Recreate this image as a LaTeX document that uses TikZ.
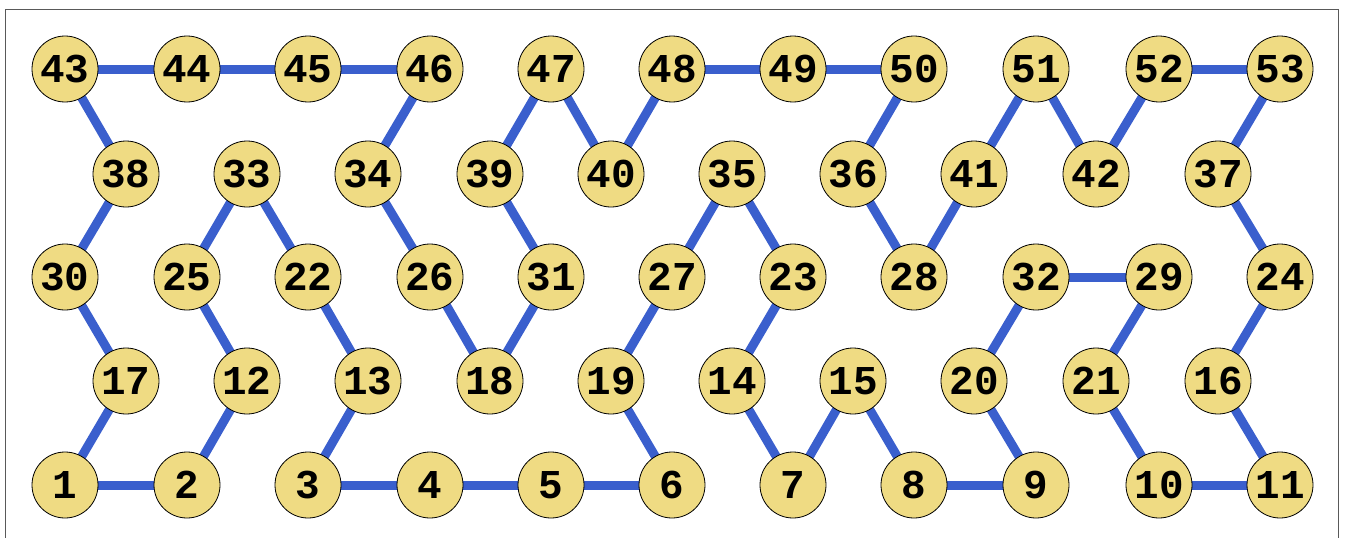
\documentclass[tikz,border=0pt]{standalone}
\usepackage{fontspec}
\setmonofont{Liberation Mono}
\usetikzlibrary{backgrounds}
\definecolor{edgeblue}{HTML}{3A5FCD}
\definecolor{nodefill}{HTML}{EFDB83}
\begin{document}
\begin{tikzpicture}[x=1pt,y=-1pt,
  vnode/.style={circle,draw=black,line width=0.8pt,fill=nodefill,minimum size=66pt,inner sep=0pt,
    font=\fontsize{41}{41}\selectfont\ttfamily\bfseries},
  edge/.style={draw=edgeblue,line width=9pt}]
\useasboundingbox (0,0) rectangle (1345,538);
\draw[gray!70!black,line width=1.5pt] (5.5,9.5) rectangle (1338.5,560);
% rows
\foreach \n/\x in {43/65,44/187,45/308,46/430,47/551,48/672,49/793,50/914,51/1036,52/1159,53/1280}
  \node[vnode] (n\n) at (\x,69) {\n};
\foreach \n/\x in {38/126,33/247,34/368,39/490,40/611,35/732,36/853,41/974,42/1096,37/1218}
  \node[vnode] (n\n) at (\x,174) {\n};
\foreach \n/\x in {30/65,25/187,22/308,26/430,31/551,27/672,23/793,28/914,32/1036,29/1159,24/1280}
  \node[vnode] (n\n) at (\x,277) {\n};
\foreach \n/\x in {17/126,12/247,13/368,18/490,19/611,14/732,15/853,20/974,21/1096,16/1218}
  \node[vnode] (n\n) at (\x,381) {\n};
\foreach \n/\x in {1/65,2/187,3/308,4/430,5/551,6/672,7/793,8/914,9/1036,10/1159,11/1280}
  \node[vnode] (n\n) at (\x,485) {\n};
\begin{scope}[on background layer]
\foreach \a/\b in {43/44,44/45,45/46,48/49,49/50,52/53,
  43/38,38/30,30/17,17/1,1/2,2/12,12/25,25/33,33/22,22/13,13/3,3/4,4/5,5/6,
  6/19,19/27,27/35,35/23,23/14,14/7,7/15,15/8,8/9,9/20,20/32,32/29,29/21,21/10,
  10/11,11/16,16/24,24/37,37/53,
  46/34,34/26,26/18,18/31,31/39,39/47,47/40,40/48,
  50/36,36/28,28/41,41/51,51/42,42/52}
  \draw[edge] (n\a.center) -- (n\b.center);
\end{scope}
\end{tikzpicture}
\end{document}
